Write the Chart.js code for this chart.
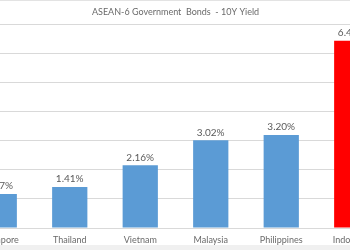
<!DOCTYPE html>
<html>
<head>
<title>ASEAN-6 Government Bonds</title>
<script src="https://cdn.jsdelivr.net/npm/chart.js"></script>
<style>
  body { margin: 0; background: #fff; }
  #frame { position: relative; width: 350px; height: 250px; overflow: hidden; background: #fff; }
  #topline { position: absolute; left: 0; top: 0; width: 350px; height: 1px; background: #e3e3e3; }
  #bottomband { position: absolute; left: 0; top: 245px; width: 350px; height: 5px; background: #f0f0f0; }
  #yieldChart { position: absolute; left: -36px; top: 0; }
</style>
<script>
const countries = ['Singapore', 'Thailand', 'Vietnam', 'Malaysia', 'Philippines', 'Indonesia'];
const yields = [1.17, 1.41, 2.16, 3.02, 3.20, 6.45];
const barColors = ['#5B9BD5', '#5B9BD5', '#5B9BD5', '#5B9BD5', '#5B9BD5', '#FF0000'];
const titleText = 'ASEAN-6 Government  Bonds  - 10Y Yield';

// draws the "x.xx%" value above every bar
const valueLabels = {
  id: 'valueLabels',
  afterDatasetsDraw(chart) {
    const ctx = chart.ctx;
    ctx.save();
    ctx.font = '10px Lato';
    ctx.fillStyle = '#5a5a5a';
    ctx.textAlign = 'center';
    ctx.textBaseline = 'middle';
    chart.getDatasetMeta(0).data.forEach((bar, i) => {
      ctx.fillText(yields[i].toFixed(2) + '%', bar.x, bar.y - 8);
    });
    ctx.restore();
  }
};

function makeChart() {
  new Chart(document.getElementById('yieldChart'), {
    type: 'bar',
    data: {
      labels: countries,
      datasets: [{
        data: yields,
        backgroundColor: barColors,
        barPercentage: 0.5,
        categoryPercentage: 1.0
      }]
    },
    options: {
      responsive: false,
      animation: false,
      layout: { padding: 0 },
      plugins: {
        legend: { display: false },
        tooltip: { enabled: false },
        title: {
          display: true,
          text: titleText,
          color: '#6a6a6a',
          font: { family: 'Lato', size: 9, weight: 'normal' },
          padding: { top: 7, bottom: 7 }
        }
      },
      scales: {
        x: {
          grid: { display: false, drawTicks: false },
          border: { display: true, color: '#d9d9d9' },
          ticks: { color: '#6a6a6a', font: { family: 'Lato', size: 9 }, padding: 7, maxRotation: 0, autoSkip: false },
          afterFit: s => { s.height = 17; }
        },
        y: {
          min: 0,
          max: 7,
          ticks: { display: false, stepSize: 1 },
          grid: { color: '#d9d9d9', drawTicks: false },
          border: { display: false },
          afterFit: s => { s.width = 0; }
        }
      }
    },
    plugins: [valueLabels]
  });
}
</script>
</head>
<body onload="makeChart()">
  <div id="frame">
    <canvas id="yieldChart" width="423" height="245"></canvas>
    <div id="topline"></div>
    <div id="bottomband"></div>
  </div>
</body>
</html>
